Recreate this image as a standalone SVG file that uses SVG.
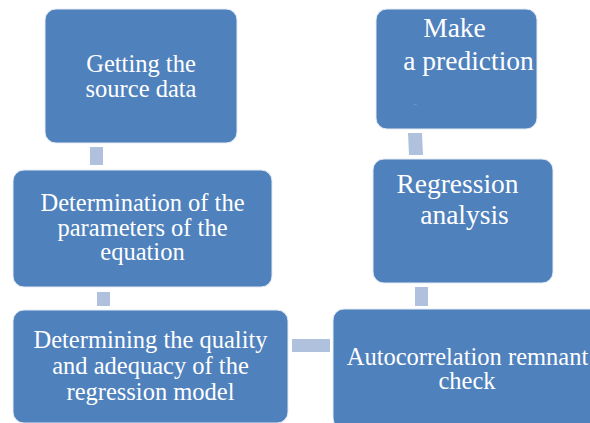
<svg xmlns="http://www.w3.org/2000/svg" width="590" height="423" viewBox="0 0 590 423">
  <style>
    .box { fill: #4F81BD; stroke: #E4EAF4; stroke-width: 1; }
    .link { fill: #B0C1DD; }
    .lbl { font-size: 24.5px; fill: #FFFFFF; text-anchor: middle; }
    .big { font-size: 27.5px; }
  </style>
  <rect width="590" height="423" fill="#FFFFFF"/>

  <!-- connectors between the steps -->
  <g id="connectors">
    <rect class="link" x="90" y="147" width="13" height="18"/>
    <rect class="link" x="97" y="292" width="13" height="14"/>
    <rect class="link" x="292" y="339" width="38" height="13"/>
    <rect class="link" x="415" y="287" width="13" height="19"/>
    <polygon class="link" points="408,133 422,133 423,155 409,155"/>
  </g>

  <g font-family="Liberation Serif, DejaVu Serif, serif">
  <g id="node-source">
    <rect class="box" x="45" y="9" width="192" height="134" rx="11"/>
    <text class="lbl" x="141" y="72">Getting the</text>
    <text class="lbl" x="141" y="96.5">source data</text>
  </g>

  <g id="node-parameters">
    <rect class="box" x="13" y="170" width="259" height="117" rx="11"/>
    <text class="lbl" x="142.5" y="211">Determination of the</text>
    <text class="lbl" x="142.5" y="235.5">parameters of the</text>
    <text class="lbl" x="142.5" y="260">equation</text>
  </g>

  <g id="node-quality">
    <rect class="box" x="13" y="310" width="275" height="113" rx="11"/>
    <text class="lbl" x="150.5" y="348">Determining the quality</text>
    <text class="lbl" x="150.5" y="374">and adequacy of the</text>
    <text class="lbl" x="150.5" y="400">regression model</text>
  </g>

  <g id="node-autocorrelation">
    <rect class="box" x="333" y="309" width="270" height="120" rx="11"/>
    <text class="lbl" x="467.5" y="364.5">Autocorrelation remnant</text>
    <text class="lbl" x="467" y="389">check</text>
  </g>

  <g id="node-regression">
    <rect class="box" x="373" y="159" width="180" height="124" rx="11"/>
    <text class="lbl big" x="457.5" y="193">Regression</text>
    <text class="lbl big" x="464.5" y="224">analysis</text>
  </g>

  <g id="node-prediction">
    <rect class="box" x="376" y="9" width="161" height="120" rx="11"/>
    <text class="lbl big" x="454.5" y="37">Make</text>
    <text class="lbl big" x="468.5" y="70">a prediction</text>
    <text x="414" y="105" font-size="5" fill="#DDE6F2">..</text>
  </g>
  </g>
</svg>
